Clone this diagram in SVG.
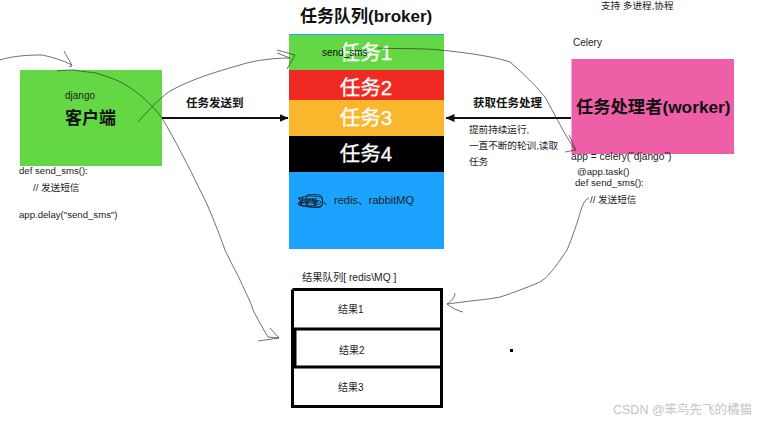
<svg xmlns="http://www.w3.org/2000/svg" width="777" height="423" viewBox="0 0 777 423">
<defs>
<marker id="ah" markerWidth="10" markerHeight="10" refX="8.5" refY="4" orient="auto" markerUnits="userSpaceOnUse"><path d="M0 0L9 4L0 8Z" fill="#111"/></marker>
</defs>
<style>
text{font-family:"Liberation Sans","Noto Sans CJK SC",sans-serif;fill:#222}
.s{font-size:10px}
.n{font-size:9.600px}
.m{font-size:11.500px;font-weight:bold;fill:#111}
.t{font-size:20.500px;fill:#fff;stroke:#fff;stroke-width:.3;text-anchor:middle}
.b{font-size:17px;font-weight:bold;fill:#111}
.sk{fill:none;stroke:#333;stroke-width:.7}
.axis{fill:none;stroke:#111;stroke-width:2}
</style>
<rect width="777" height="423" fill="#fff"/>
<text x="601" y="9" class="n">支持 多进程,协程</text>
<g id="client">
<rect x="20" y="70" width="142" height="96" fill="#64d844"/>
<text x="65" y="99" class="s">django</text>
<text x="65" y="124" font-size="17" font-weight="bold" style="fill:#111">客户端</text>
</g>
<g id="client-code">
<text x="19" y="174" class="n">def send_sms():</text>
<text x="33" y="191" class="n">// 发送短信</text>
<text x="19" y="218" class="n">app.delay("send_sms")</text>
</g>
<g id="broker">
<text x="300" y="22" class="b">任务队列(broker)</text>
<rect x="289" y="34" width="155" height="215" fill="#1ca3ff"/>
<rect x="289" y="35" width="155" height="35" fill="#64d844"/>
<rect x="289" y="70" width="155" height="30" fill="#ee2a23"/>
<rect x="289" y="100" width="155" height="36" fill="#f8b72d"/>
<rect x="289" y="136" width="155" height="36" fill="#000"/>
<text x="366" y="60" class="t">任务1</text>
<text x="366" y="95" class="t">任务2</text>
<text x="366" y="125" class="t">任务3</text>
<text x="366" y="161" class="t">任务4</text>
<text x="322" y="56" class="s" style="fill:#111">send_sms</text>
<text x="323" y="204" font-size="11" style="fill:#222">、redis、rabbitMQ</text>
<path d="M298 199c4-3 14-4 22-2 4 1 3 8 1 9-6 2-16 1-22-1-3-2 2-5 8-5 5 0 13 0 14 2s-8 4-14 4-10-2-7-3 12-3 18-1M307 195c5-1 14-1 15 2 1 5 0 9-1 10-5 1-12 0-14-1-2-3-1-9 0-11M299 197l3 9M303 197l-2 9M309 198l-2 8M312 198l3 8M316 198l-1 8M300 203h18M300 199h16" fill="none" stroke="#111" stroke-width=".8"/>
</g>
<g id="worker">
<text x="573" y="46" class="s">Celery</text>
<rect x="571.500" y="59" width="162.500" height="95" fill="#ee5fa7"/>
<text x="576" y="113" font-size="17.300" font-weight="bold" style="fill:#111">任务处理者(worker)</text>
</g>
<g id="worker-code">
<text x="571" y="160" font-size="10.200">app = celery("django")</text>
<text x="577" y="175" class="n">@app.task()</text>
<text x="575" y="186" class="n">def send_sms():</text>
<text x="590" y="203" class="n">// 发送短信</text>
</g>
<g id="results">
<text x="302" y="281" font-size="10.300">结果队列[ redis\MQ ]</text>
<path d="M292.500 289.500H441.500V406.500H292.500V329.500M292.500 329.500V289.500M292.500 329H441.500M292.500 367H441.500" fill="#fff" stroke="#000" stroke-width="3"/>
<path d="M295 329V367" stroke="#000" stroke-width="3"/>
<text x="338" y="313" class="s">结果1</text>
<text x="339" y="354" class="s">结果2</text>
<text x="338" y="391" class="s">结果3</text>
</g>
<g id="connectors">
<path class="axis" d="M162 118H288" marker-end="url(#ah)"/>
<path class="axis" d="M571 118H446" marker-end="url(#ah)"/>
<path class="sk" d="M0 60C12 56 28 55 42 55C52 57 62 60 72 65M64 51C66 56 70 60 72 66L69 67"/>
<path class="sk" d="M57 71C62 70 70 70 75 70C84 72 90 72 96 73C108 77 118 80 124 84C140 93 155 108 162 118C175 140 188 165 200 190C208 205 216 225 225 250C232 265 238 275 240 280C247 295 252 305 253 310C258 320 265 332 268 337L279 338L258 341M270 328L279 338"/>
<path class="sk" d="M138 122C150 108 163 95 172 90C190 80 215 72 240 65C255 60 275 58 290 58L277 53M277 50L295 55L287 69"/>
<path class="sk" d="M377 48C395 49 420 48 440 50C470 53 495 57 510 62C525 75 535 85 545 97C555 115 565 135 575 150M569 135L576 150L565 152"/>
<path class="sk" d="M589 198C583 200 581 210 578 220C574 232 570 243 567 250C560 260 555 268 550 273C545 280 538 283 533 285C520 290 510 294 500 297C485 300 475 300 463 302L447 304M455 293C455 298 450 302 447 304C452 308 458 311 463 312"/>
</g>
<g id="task-note">
<text x="186" y="107" class="m">任务发送到</text>
<text x="473" y="107" class="m">获取任务处理</text>
<text x="469" y="133" class="n">提前持续运行,</text>
<text x="469" y="149" class="n">一直不断的轮训,读取</text>
<text x="469" y="165" class="n">任务</text>
</g>
<rect x="510" y="349" width="3" height="3" fill="#000"/>
<text x="613" y="414" font-size="12.500" style="fill:#c4c4c4">CSDN @笨鸟先飞的橘猫</text>
</svg>
